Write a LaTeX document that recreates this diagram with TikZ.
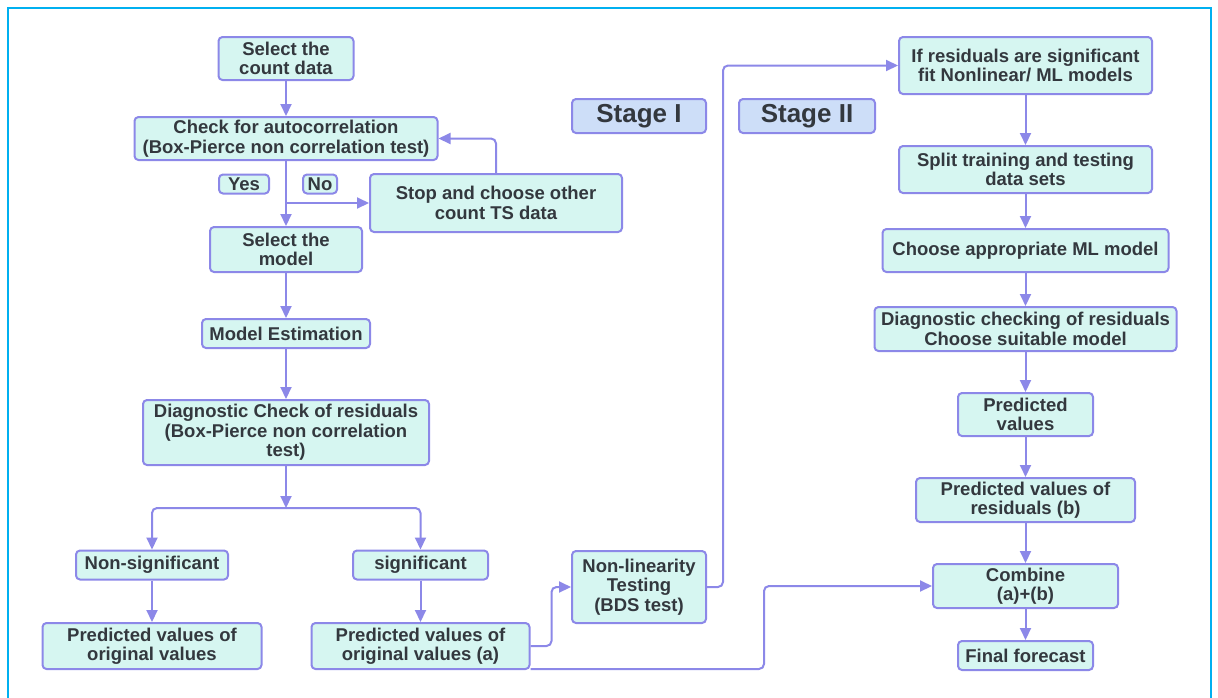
\documentclass[tikz,border=0pt]{standalone}
\usepackage{fontspec}
\setmainfont{Liberation Sans}
\usetikzlibrary{arrows.meta,calc}
\definecolor{boxfill}{RGB}{214,246,241}
\definecolor{stagefill}{RGB}{205,222,248}
\definecolor{edge}{RGB}{140,136,232}
\definecolor{txt}{RGB}{51,56,62}
\definecolor{frame}{RGB}{0,176,240}
\tikzset{
  flowbox/.style={draw=edge, fill=boxfill, line width=2pt, rounded corners=4pt, inner sep=0pt, align=center,
    text=txt, font=\fontsize{18.5}{19.5}\selectfont\bfseries},
  stagebox/.style={draw=edge, fill=stagefill, line width=2pt, rounded corners=4pt, inner sep=0pt, align=center,
    text=txt, font=\fontsize{26}{28}\selectfont\bfseries},
  arr/.style={draw=edge, line width=2pt, rounded corners=5pt, -{Triangle[length=12pt,width=11pt]}},
}
\begin{document}
\begin{tikzpicture}[x=1pt,y=-1pt]
\useasboundingbox (0,0) rectangle (1218,697);
\fill[white] (0,0) rectangle (1218,697);
\draw[frame, line width=2pt] (8,700) -- (8,8) -- (1211,8) -- (1211,700);

% Stage I column
\node[flowbox, minimum width=135, minimum height=43] (n1) at (286,58.5) {Select the\\count data};
\node[flowbox, minimum width=303, minimum height=43] (n2) at (286,138.5) {Check for autocorrelation\\(Box-Pierce non correlation test)};
\node[flowbox, minimum width=50, minimum height=19] (yes) at (244,184) {Yes};
\node[flowbox, minimum width=34, minimum height=19] (no) at (320,184) {No};
\node[flowbox, minimum width=252, minimum height=58] (stop) at (496,203) {Stop and choose other\\count TS data};
\node[flowbox, minimum width=152, minimum height=45] (n6) at (286,249.5) {Select the\\model};
\node[flowbox, minimum width=168, minimum height=29] (n7) at (286,333.5) {Model Estimation};
\node[flowbox, minimum width=286, minimum height=65] (n8) at (286,432.5) {Diagnostic Check of residuals\\(Box-Pierce non correlation\\test)};
\coordinate (br) at (286,508);
\node[flowbox, minimum width=152, minimum height=29] (nsig) at (152,565) {Non-significant};
\node[flowbox, minimum width=135, minimum height=29] (sig) at (420.5,565) {significant};
\node[flowbox, minimum width=219, minimum height=46] (pA) at (152,646) {Predicted values of\\original values};
\node[flowbox, minimum width=218, minimum height=46] (pB) at (420.5,646) {Predicted values of\\original values (a)};
\node[flowbox, minimum width=134, minimum height=72] (nl) at (639,587) {Non-linearity\\Testing\\(BDS test)};

% Stage labels
\node[stagebox, minimum width=134, minimum height=34] (s1) at (639,116) {Stage I};
\node[stagebox, minimum width=136, minimum height=34] (s2) at (807,116) {Stage II};

% Stage II column
\node[flowbox, minimum width=253, minimum height=57] (r1) at (1025.5,65.5) {If residuals are significant\\fit Nonlinear/ ML models};
\node[flowbox, minimum width=253, minimum height=47] (r2) at (1025.5,169.5) {Split training and testing\\data sets};
\node[flowbox, minimum width=286, minimum height=43] (r3) at (1025.5,250.5) {Choose appropriate ML model};
\node[flowbox, minimum width=302, minimum height=44] (r4) at (1025.5,329) {Diagnostic checking of residuals\\Choose suitable model};
\node[flowbox, minimum width=135, minimum height=43] (r5) at (1025.5,414.5) {Predicted\\values};
\node[flowbox, minimum width=219, minimum height=44] (r6) at (1025.5,500) {Predicted values of\\residuals (b)};
\node[flowbox, minimum width=185, minimum height=44] (r7) at (1025.5,586) {Combine\\(a)+(b)};
\node[flowbox, minimum width=135, minimum height=29] (r8) at (1025.5,655.5) {Final forecast};

% connectors stage I
\draw[arr] (n1) -- (n2);
\draw[arr] (n2) -- (n6);
\draw[arr] (n2.south |- stop.west) -- (stop.west);
\draw[arr] (stop.north) |- (n2.east);
\draw[arr] (n6) -- (n7);
\draw[arr] (n7) -- (n8);
\draw[arr] (n8) -- (br);
\draw[arr] (br) -| (nsig.north);
\draw[arr] (br) -| (sig.north);
\draw[arr] (nsig) -- (pA);
\draw[arr] (sig) -- (pB);
\draw[arr] (pB.east) -- ++(21,0) |- (nl.west);
\draw[arr] ([yshift=1pt]pB.south east) -| ([xshift=-168pt]r7.west) -- (r7.west);
\draw[arr] (nl.east) -- ++(16,0) |- (r1.west);

% connectors stage II
\draw[arr] (r1) -- (r2);
\draw[arr] (r2) -- (r3);
\draw[arr] (r3) -- (r4);
\draw[arr] (r4) -- (r5);
\draw[arr] (r5) -- (r6);
\draw[arr] (r6) -- (r7);
\draw[arr] (r7) -- (r8);
\end{tikzpicture}
\end{document}
